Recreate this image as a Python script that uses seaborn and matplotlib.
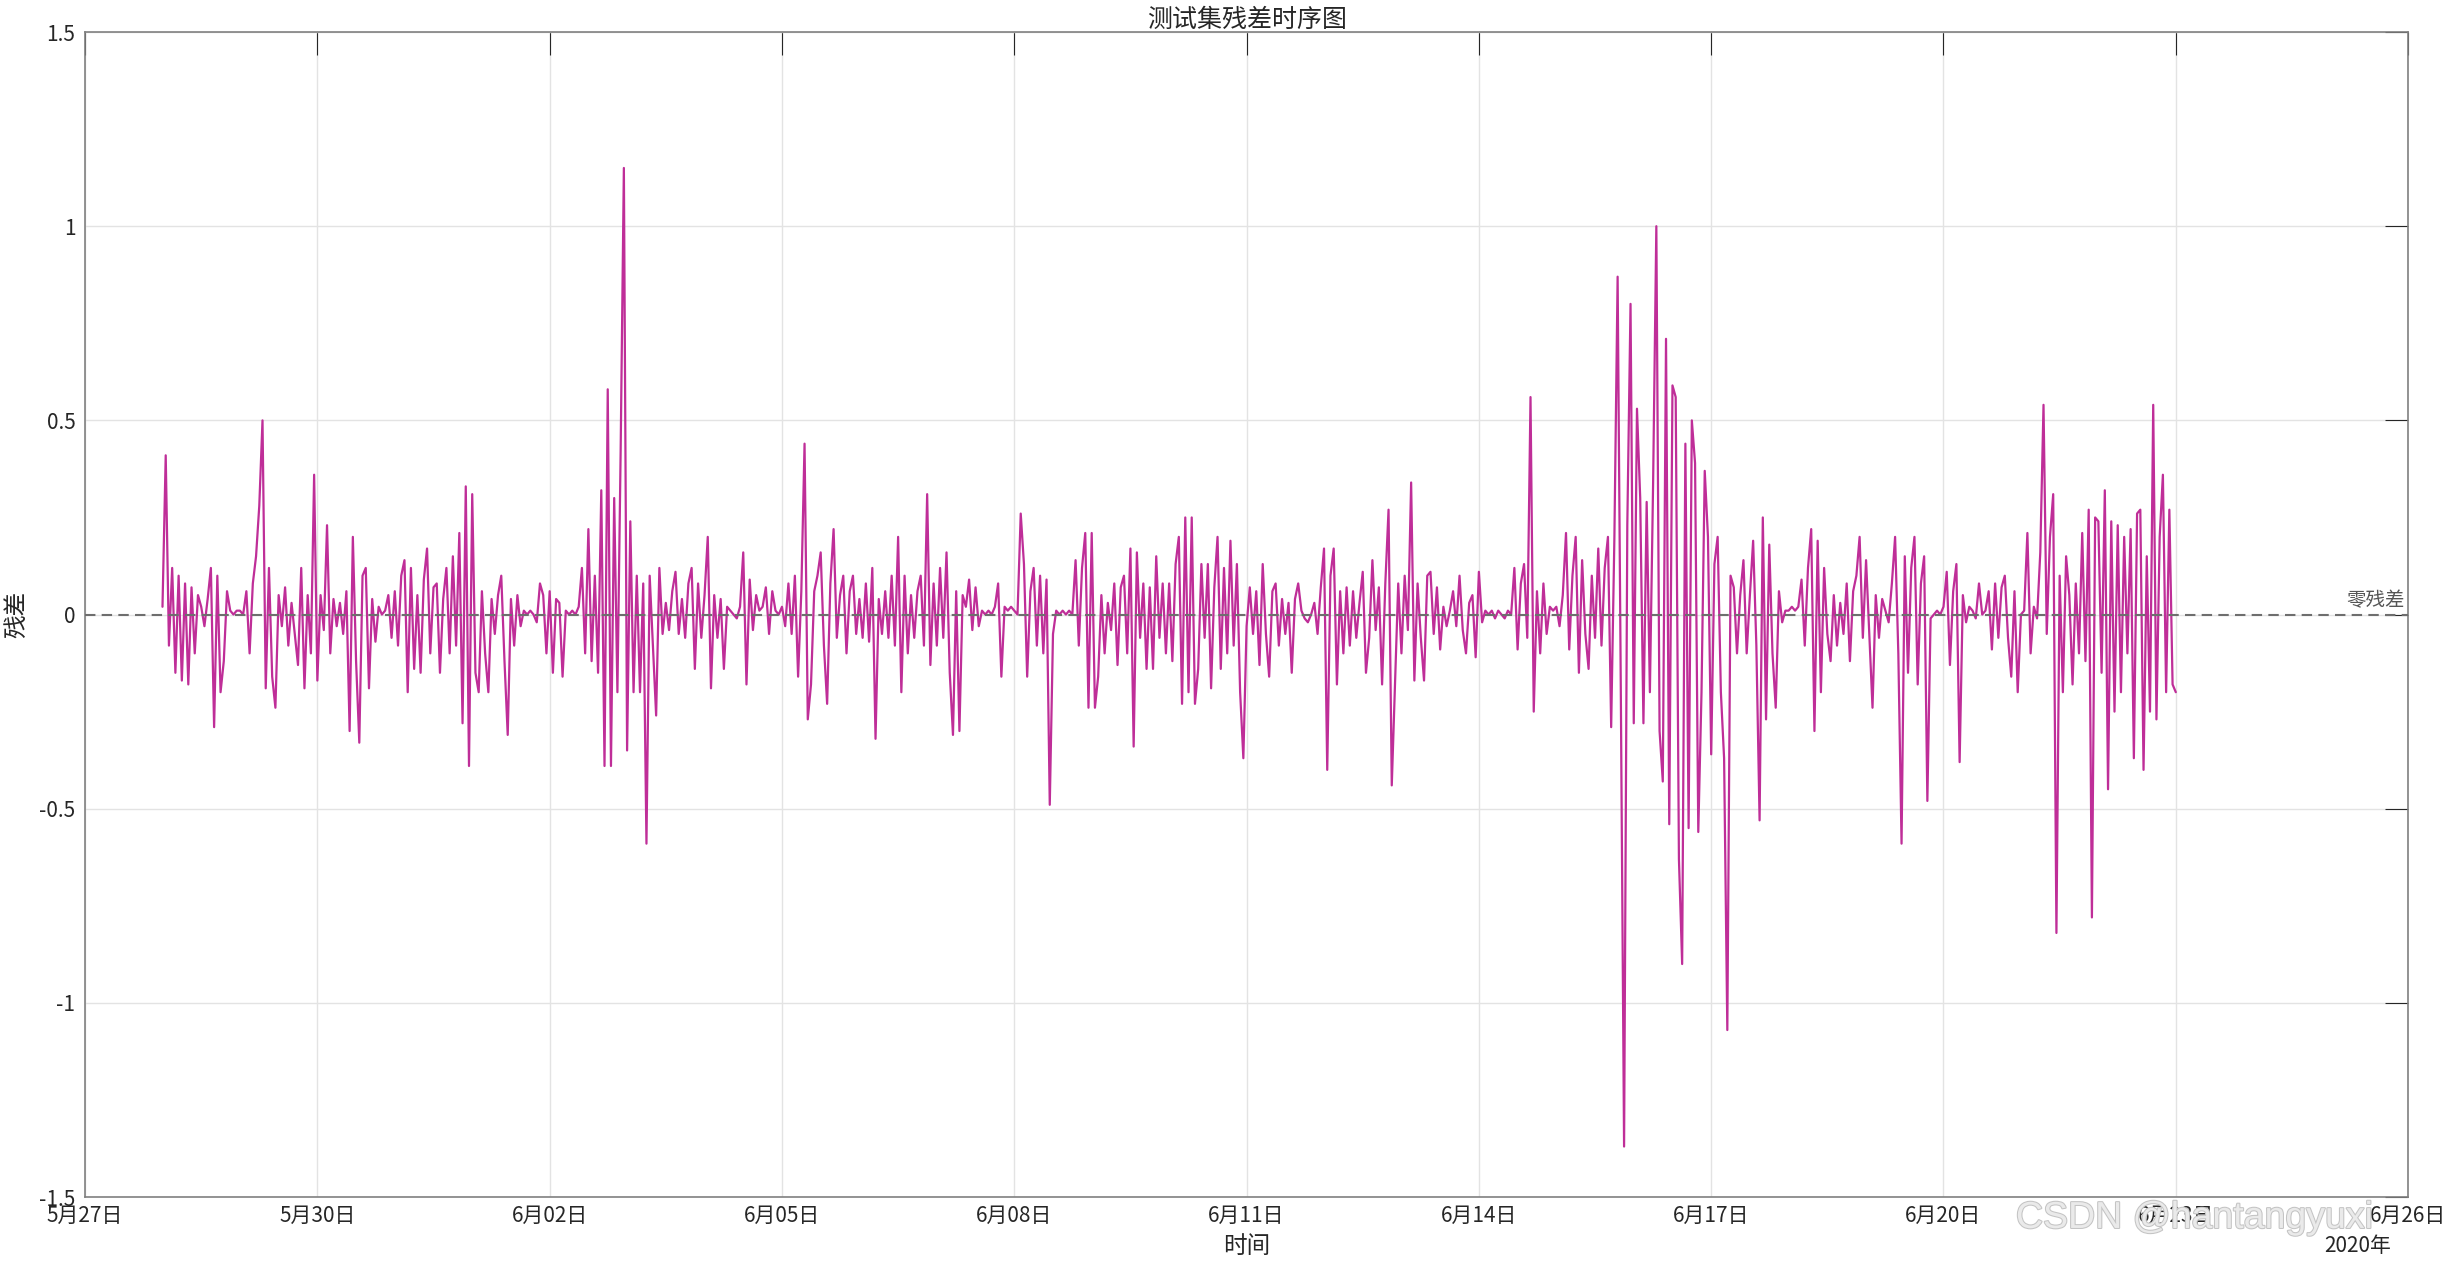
"""
Test-set residual time series (hourly residuals, 2020-05-28 .. 2020-06-23)
"""

import numpy as np
import pandas as pd
import matplotlib
matplotlib.use('Agg')
import matplotlib.pyplot as plt
import matplotlib.patheffects as pe
import seaborn as sns

# ====================
# Data: hourly residuals, one list per day
# ====================
res_0528 = [0.02, 0.41, -0.08, 0.12, -0.15, 0.10, -0.17, 0.08, -0.18, 0.07, -0.10, 0.05,
            0.02, -0.03, 0.04, 0.12, -0.29, 0.10, -0.20, -0.12, 0.06, 0.01, 0.00, 0.01]
res_0529 = [0.01, 0.00, 0.06, -0.10, 0.08, 0.15, 0.28, 0.50, -0.19, 0.12, -0.16, -0.24,
            0.05, -0.03, 0.07, -0.08, 0.03, -0.05, -0.13, 0.12, -0.19, 0.05, -0.10, 0.36]
res_0530 = [-0.17, 0.05, -0.04, 0.23, -0.10, 0.04, -0.03, 0.03, -0.05, 0.06, -0.30, 0.20,
            -0.12, -0.33, 0.10, 0.12, -0.19, 0.04, -0.07, 0.02, 0.00, 0.01, 0.05, -0.06]
res_0531 = [0.06, -0.08, 0.10, 0.14, -0.20, 0.12, -0.14, 0.05, -0.15, 0.09, 0.17, -0.10,
            0.07, 0.08, -0.15, 0.04, 0.12, -0.10, 0.15, -0.08, 0.21, -0.28, 0.33, -0.39]
res_0601 = [0.31, -0.15, -0.20, 0.06, -0.10, -0.20, 0.04, -0.05, 0.05, 0.10, -0.12, -0.31,
            0.04, -0.08, 0.05, -0.03, 0.01, 0.00, 0.01, 0.00, -0.02, 0.08, 0.05, -0.10]
res_0602 = [0.06, -0.15, 0.04, 0.03, -0.16, 0.01, 0.00, 0.01, 0.00, 0.02, 0.12, -0.10,
            0.22, -0.12, 0.10, -0.15, 0.32, -0.39, 0.58, -0.39, 0.30, -0.20, 0.42, 1.15]
res_0603 = [-0.35, 0.24, -0.20, 0.10, -0.20, 0.08, -0.59, 0.10, -0.08, -0.26, 0.12, -0.05,
            0.03, -0.04, 0.06, 0.11, -0.05, 0.04, -0.06, 0.08, 0.12, -0.14, 0.08, -0.06]
res_0604 = [0.05, 0.20, -0.19, 0.05, -0.06, 0.04, -0.14, 0.02, 0.01, 0.00, -0.01, 0.02,
            0.16, -0.18, 0.09, -0.04, 0.05, 0.01, 0.02, 0.07, -0.05, 0.06, 0.01, 0.00]
res_0605 = [0.02, -0.03, 0.08, -0.05, 0.10, -0.16, 0.06, 0.44, -0.27, -0.18, 0.06, 0.10,
            0.16, -0.08, -0.23, 0.08, 0.22, -0.06, 0.05, 0.10, -0.10, 0.06, 0.10, -0.05]
res_0606 = [0.04, -0.06, 0.08, -0.07, 0.12, -0.32, 0.04, -0.05, 0.06, -0.06, 0.10, -0.08,
            0.20, -0.20, 0.10, -0.10, 0.05, -0.06, 0.06, 0.10, -0.08, 0.31, -0.13, 0.08]
res_0607 = [-0.08, 0.12, -0.06, 0.16, -0.15, -0.31, 0.06, -0.30, 0.05, 0.02, 0.09, -0.04,
            0.07, -0.03, 0.01, 0.00, 0.01, 0.00, 0.02, 0.08, -0.16, 0.02, 0.01, 0.02]
res_0608 = [0.01, 0.00, 0.26, 0.13, -0.16, 0.06, 0.12, -0.08, 0.10, -0.10, 0.09, -0.49,
            -0.05, 0.01, 0.00, 0.01, 0.00, 0.01, 0.00, 0.14, -0.08, 0.12, 0.21, -0.24]
res_0609 = [0.21, -0.24, -0.16, 0.05, -0.10, 0.03, -0.04, 0.08, -0.13, 0.07, 0.10, -0.10,
            0.17, -0.34, 0.16, -0.06, 0.08, -0.14, 0.07, -0.14, 0.15, -0.06, 0.08, -0.10]
res_0610 = [0.08, -0.12, 0.13, 0.20, -0.23, 0.25, -0.20, 0.25, -0.23, -0.14, 0.13, -0.06,
            0.13, -0.19, 0.07, 0.20, -0.14, 0.12, -0.10, 0.19, -0.08, 0.13, -0.20, -0.37]
res_0611 = [-0.03, 0.07, -0.05, 0.06, -0.13, 0.13, -0.05, -0.16, 0.06, 0.08, -0.08, 0.04,
            -0.05, 0.03, -0.15, 0.04, 0.08, 0.01, -0.01, -0.02, 0.00, 0.03, -0.05, 0.07]
res_0612 = [0.17, -0.40, 0.10, 0.17, -0.18, 0.06, -0.10, 0.07, -0.08, 0.06, -0.06, 0.03,
            0.11, -0.15, -0.06, 0.14, -0.04, 0.07, -0.18, 0.08, 0.27, -0.44, -0.18, 0.08]
res_0613 = [-0.10, 0.10, -0.04, 0.34, -0.17, 0.08, -0.06, -0.17, 0.10, 0.11, -0.05, 0.07,
            -0.09, 0.02, -0.03, 0.01, 0.06, -0.03, 0.10, -0.04, -0.10, 0.03, 0.05, -0.11]
res_0614 = [0.11, -0.02, 0.01, 0.00, 0.01, -0.01, 0.01, 0.00, -0.01, 0.01, 0.00, 0.12,
            -0.09, 0.08, 0.13, -0.06, 0.56, -0.25, 0.06, -0.10, 0.08, -0.05, 0.02, 0.01]
res_0615 = [0.02, -0.03, 0.05, 0.21, -0.09, 0.10, 0.20, -0.15, 0.14, -0.05, -0.14, 0.10,
            -0.06, 0.17, -0.08, 0.12, 0.20, -0.29, 0.20, 0.87, -0.21, -1.37, 0.23, 0.80]
res_0616 = [-0.28, 0.53, 0.30, -0.28, 0.29, -0.20, 0.34, 1.00, -0.30, -0.43, 0.71, -0.54,
            0.59, 0.56, -0.63, -0.90, 0.44, -0.55, 0.50, 0.39, -0.56, -0.20, 0.37, 0.20]
res_0617 = [-0.36, 0.13, 0.20, -0.20, -0.37, -1.07, 0.10, 0.07, -0.10, 0.05, 0.14, -0.10,
            0.05, 0.19, -0.08, -0.53, 0.25, -0.27, 0.18, -0.10, -0.24, 0.06, -0.02, 0.01]
res_0618 = [0.01, 0.02, 0.01, 0.02, 0.09, -0.08, 0.12, 0.22, -0.30, 0.19, -0.20, 0.12,
            -0.05, -0.12, 0.05, -0.08, 0.03, -0.05, 0.08, -0.12, 0.06, 0.10, 0.20, -0.06]
res_0619 = [0.14, -0.05, -0.24, 0.05, -0.06, 0.04, 0.01, -0.02, 0.08, 0.20, -0.10, -0.59,
            0.15, -0.15, 0.12, 0.20, -0.18, 0.08, 0.15, -0.48, -0.01, 0.00, 0.01, 0.00]
res_0620 = [0.02, 0.11, -0.13, 0.06, 0.13, -0.38, 0.05, -0.02, 0.02, 0.01, -0.01, 0.08,
            0.00, 0.01, 0.06, -0.09, 0.08, -0.06, 0.07, 0.10, -0.06, -0.16, 0.06, -0.20]
res_0621 = [0.00, 0.01, 0.21, -0.10, 0.02, -0.01, 0.16, 0.54, -0.05, 0.20, 0.31, -0.82,
            0.10, -0.20, 0.15, 0.05, -0.18, 0.08, -0.10, 0.21, -0.12, 0.27, -0.78, 0.25]
res_0622 = [0.24, -0.15, 0.32, -0.45, 0.24, -0.25, 0.23, -0.20, 0.20, -0.10, 0.22, -0.37,
            0.26, 0.27, -0.40, 0.15, -0.25, 0.54, -0.27, 0.20, 0.36, -0.20, 0.27, -0.18]
res_0623 = [-0.20]

start_time = '2020-05-28 00:00'

x_tick_dates = ['2020-05-27', '2020-05-30', '2020-06-02', '2020-06-05', '2020-06-08', '2020-06-11',
                '2020-06-14', '2020-06-17', '2020-06-20', '2020-06-23', '2020-06-26']
x_tick_labels = ['5月27日', '5月30日', '6月02日', '6月05日', '6月08日', '6月11日',
                 '6月14日', '6月17日', '6月20日', '6月23日', '6月26日']
y_tick_values = [-1.5, -1, -0.5, 0, 0.5, 1, 1.5]
y_tick_labels = ['-1.5', '-1', '-0.5', '0', '0.5', '1', '1.5']

residual = np.concatenate([res_0528, res_0529, res_0530, res_0531, res_0601, res_0602,
                           res_0603, res_0604, res_0605, res_0606, res_0607, res_0608,
                           res_0609, res_0610, res_0611, res_0612, res_0613, res_0614,
                           res_0615, res_0616, res_0617, res_0618, res_0619, res_0620,
                           res_0621, res_0622, res_0623])
times = pd.date_range(start_time, periods=len(residual), freq='h')
df = pd.DataFrame({'time': times, 'residual': residual})

# ====================
# Plot
# ====================
sns.set_theme(style='white')
plt.rcParams['font.family'] = ['Noto Sans CJK SC', 'DejaVu Sans']
plt.rcParams['axes.unicode_minus'] = False

fig = plt.figure(figsize=(24.51, 12.62), dpi=100)
ax = fig.add_axes([0.0347, 0.0515, 0.9478, 0.9231])

sns.lineplot(data=df, x='time', y='residual', ax=ax, color='#bf2e98', linewidth=1.6)

# zero reference line with label
ax.axhline(0, color='#6e6e6e', linewidth=1.5, linestyle=(0, (5, 3)), zorder=5)
ax.text(0.9985, 0.008, '零残差', transform=ax.get_yaxis_transform(),
        ha='right', va='bottom', fontsize=14, color='#555555')

ax.set_xlim(pd.Timestamp('2020-05-27'), pd.Timestamp('2020-06-26'))
ax.set_ylim(-1.5, 1.5)
ax.set_xticks(pd.to_datetime(x_tick_dates))
ax.set_xticklabels(x_tick_labels)
ax.set_yticks(y_tick_values)
ax.set_yticklabels(y_tick_labels)

ax.tick_params(direction='in', length=16.5, width=0.8, color='#262626',
               top=True, right=True, labelsize=15, labelcolor='#262626')
ax.tick_params(axis='x', pad=6)
ax.tick_params(axis='y', pad=7)
ax.grid(True, color='#e3e3e3', linewidth=1.0)
for side in ax.spines.values():
    side.set_color('#808080')
    side.set_linewidth(1.2)

ax.set_title('测试集残差时序图', fontsize=18, color='#262626', pad=4)
ax.set_xlabel('时间', fontsize=17, color='#262626')
ax.set_ylabel('残差', fontsize=17, color='#262626')
ax.xaxis.set_label_coords(0.5, -0.033)
ax.yaxis.set_label_coords(-0.0245, 0.5)

# year label under the last tick (MATLAB datetime axis style)
ax.text(0.9927, -0.042, '2020年', transform=ax.transAxes, ha='right', va='center',
        fontsize=15, color='#262626')

# watermark
fig.text(0.8225, 0.0349, 'CSDN @hantangyuxi', ha='left', va='center', fontsize=27,
         color='#eaeaea', family=['Liberation Sans Narrow', 'Liberation Sans', 'DejaVu Sans'],
         path_effects=[pe.withStroke(linewidth=1.5, foreground='#c4c4c4')])

fig.savefig('out.png', dpi=100)
plt.close()
